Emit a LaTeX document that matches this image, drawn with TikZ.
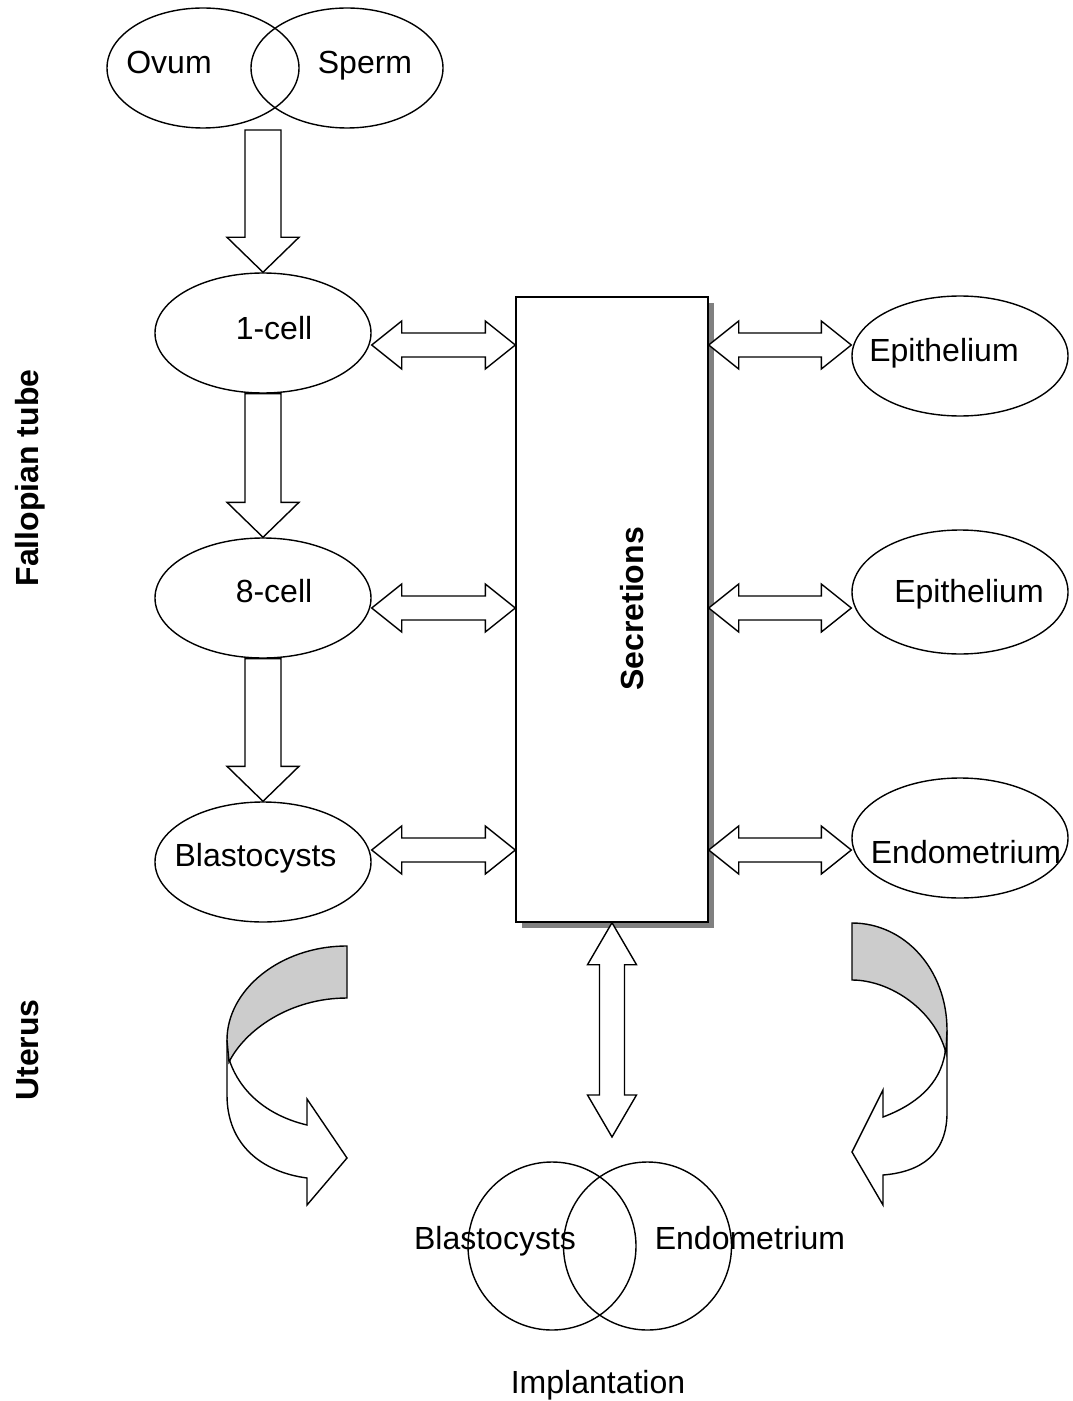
\documentclass[tikz,border=0pt]{standalone}
\usepackage{fontspec}
\setmainfont{Liberation Sans}
\usepackage{tikz}
\usetikzlibrary{calc,shapes.geometric,shadows}

\begin{document}
\begin{tikzpicture}[x=0.5pt,y=-0.5pt,line width=0.7pt,
			cell/.style={draw,ellipse,inner sep=0pt,minimum width=108pt,minimum height=60pt},
			gamete/.style={draw,ellipse,inner sep=0pt,minimum width=96pt,minimum height=60pt},
			ring/.style={draw,circle,inner sep=0pt,minimum size=84pt},
			lbl/.style={inner sep=0pt,anchor=base,font=\fontsize{16}{19}\selectfont},
			side/.style={lbl,rotate=90,font=\fontsize{16}{19}\selectfont\bfseries},
			blk/.style={draw,fill=white,line join=miter},
			secbox/.style={draw,fill=white,inner sep=0pt,minimum width=96pt,minimum height=312.5pt,
				drop shadow={shadow xshift=3pt,shadow yshift=-3pt,fill=gray,opacity=1}},
			band/.style={draw,fill=gray!40},
			]
			\useasboundingbox (0,0) rectangle (1072,1401);
			
			% 箭头宏
			\def\downblk#1#2{\draw[blk] let \p1=(#1),\p2=(#2) in
				(\x2-9pt,\y1) -- (\x2+9pt,\y1) -- (\x2+9pt,\y2+17.5pt) -- (\x2+18pt,\y2+17.5pt)
				-- (\x2,\y2) -- (\x2-18pt,\y2+17.5pt) -- (\x2-9pt,\y2+17.5pt) -- cycle;}
			\def\hblk#1#2{\draw[blk] let \p1=(#1),\p2=(#2) in
				(\x1,\y1) -- (\x1+15pt,\y1+12pt) -- (\x1+15pt,\y1+6pt) -- (\x2-15pt,\y1+6pt)
				-- (\x2-15pt,\y1+12pt) -- (\x2,\y1) -- (\x2-15pt,\y1-12pt) -- (\x2-15pt,\y1-6pt)
				-- (\x1+15pt,\y1-6pt) -- (\x1+15pt,\y1-12pt) -- cycle;}
			\def\vblk#1#2{\draw[blk] let \p1=(#1),\p2=(#2) in
				(\x1,\y1) -- (\x1+12.25pt,\y1-21pt) -- (\x1+6.25pt,\y1-21pt) -- (\x1+6.25pt,\y2+21pt)
				-- (\x1+12.25pt,\y2+21pt) -- (\x1,\y2) -- (\x1-12.25pt,\y2+21pt) -- (\x1-6.25pt,\y2+21pt)
				-- (\x1-6.25pt,\y1-21pt) -- (\x1-12.25pt,\y1-21pt) -- cycle;}
			
			% 受精
			\node[gamete] (ovum) at (203,68) {};
			\node[gamete] (sperm) at (347,68) {};
			\node[lbl] (ovumtxt) at (169,74) {Ovum};
			\node[lbl] (spermtxt) at (365,74) {Sperm};
			
			% 胚胎
			\node[cell] (onecell) at (263,333) {};
			\node[cell] (eightcell) at (263,598) {};
			\node[cell] (blasto) at (263,862) {};
			\node[lbl] (onecelltxt) at (274,339.5) {1-cell};
			\node[lbl] (eightcelltxt) at (274,602.5) {8-cell};
			\node[lbl] (blastotxt) at (255.5,866) {Blastocysts};
			
			% 分泌
			\node[secbox] (secr) at (612,609.5) {};
			\node[side] (secrtxt) at (643,609) {Secretions};
			
			% 上皮
			\node[cell] (epi1) at (960,356) {};
			\node[cell,minimum height=62pt] (epi2) at (960,592) {};
			\node[cell] (endo) at (960,838) {};
			\node[lbl] (epi1txt) at (944,361) {Epithelium};
			\node[lbl] (epi2txt) at (969,602) {Epithelium};
			\node[lbl] (endotxt) at (966,863) {Endometrium};
			
			% 着床
			\node[ring] (blc) at (552,1246) {};
			\node[ring] (enc) at (647.5,1246) {};
			\node[lbl] (blctxt) at (495,1249) {Blastocysts};
			\node[lbl] (enctxt) at (750,1249) {Endometrium};
			\node[lbl] (impltxt) at (598,1393) {Implantation};
			
			% 侧标
			\node[side] (tubetxt) at (38,478) {Fallopian tube};
			\node[side] (uterustxt) at (38,1050) {Uterus};
			
			% 行坐标
			\coordinate (fert) at (263,130);
			\coordinate (impl) at (612,1137);
			\coordinate (r1) at (0,345);
			\coordinate (r2) at (0,608);
			\coordinate (r3) at (0,850);
			
			% 块箭头
			\downblk{fert}{onecell.north}
			\downblk{onecell.south}{eightcell.north}
			\downblk{eightcell.south}{blasto.north}
			\hblk{onecell.east |- r1}{secr.west |- r1}
			\hblk{eightcell.east |- r2}{secr.west |- r2}
			\hblk{blasto.east |- r3}{secr.west |- r3}
			\hblk{secr.east |- r1}{epi1.west |- r1}
			\hblk{secr.east |- r2}{epi2.west |- r2}
			\hblk{secr.east |- r3}{endo.west |- r3}
			\vblk{secr.south}{impl}
			
			% 左弯箭头
			\draw[blk] (227,1040) -- (227,1095) .. controls (227,1145) and (262,1172) .. (307,1178)
			-- (307,1205) -- (347,1158) -- (307,1099) -- (307,1125)
			.. controls (265,1115) and (240,1090) .. (230,1062) -- cycle;
			\draw[band] (347,946) .. controls (280,946) and (227,990) .. (227,1040) -- (229,1062)
			.. controls (245,1030) and (290,998) .. (347,998) -- cycle;
			
			% 右弯箭头
			\draw[blk] (947,1030) -- (947,1110) .. controls (948,1155) and (920,1172) .. (883,1175)
			-- (883,1205) -- (852,1152) -- (883,1090) -- (883,1117)
			.. controls (915,1105) and (940,1085) .. (945,1053) -- cycle;
			\draw[band] (852,923) .. controls (905,923) and (947,970) .. (947,1030) -- (946,1053)
			.. controls (935,1010) and (890,980) .. (852,980) -- cycle;
		\end{tikzpicture}
\end{document}
